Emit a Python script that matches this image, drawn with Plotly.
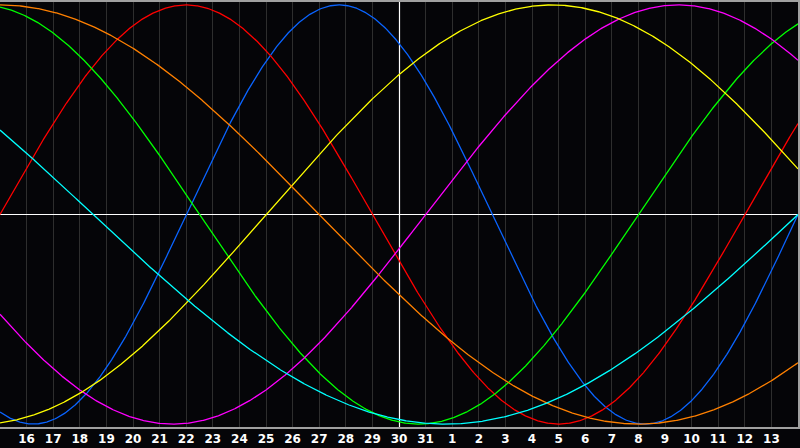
import numpy as np
import plotly.graph_objects as go

# Tick labels for the days shown (grid positions 1..29; 30 is the centre "today" line)
day_labels = [str(d) for d in range(16, 32)] + [str(d) for d in range(1, 14)]

# Biorhythm cycles
cycle_names = ["Physical", "Emotional", "Intellectual", "Intuitive",
               "Aesthetic", "Awareness", "Spiritual"]
cycle_periods = [23, 28, 33, 38, 43, 48, 53]          # days
cycle_colors = ["#0a64ff", "#ff0000", "#00ff00", "#ff00ff",
                "#ffff00", "#ff8000", "#00ffff"]
days_lived_at_left_edge = 36540                        # days since birth at x = 0
days_shown = 30
today_position = 15

fig = go.Figure()

# white reference lines (today, and the zero line), drawn under the curves
px_to_day = days_shown / 800.0
xc = today_position + 0.5 * px_to_day
fig.add_trace(go.Scatter(x=[xc, xc], y=[-1.1, 1.1], mode="lines",
                         line=dict(color="#ffffff", width=1.2), hoverinfo="skip"))
fig.add_trace(go.Scatter(x=[0, days_shown], y=[0, 0], mode="lines",
                         line=dict(color="#ffffff", width=1.2), hoverinfo="skip"))

t = np.linspace(0, days_shown, 1201)
for name, period, color in zip(cycle_names, cycle_periods, cycle_colors):
    y = np.sin(2 * np.pi * (days_lived_at_left_edge + t) / period)
    fig.add_trace(go.Scatter(x=t, y=y, mode="lines", name=name,
                             line=dict(color=color, width=1.3),
                             hoverinfo="skip"))

fig.update_layout(
    width=800, height=448,
    margin=dict(l=0, r=0, t=0, b=21),
    paper_bgcolor="#050508",
    plot_bgcolor="#050508",
    showlegend=False,
    xaxis=dict(range=[0, days_shown], tickvals=list(range(1, 30)), ticktext=day_labels,
               showgrid=True, gridcolor="#2e2e2e", gridwidth=1,
               zeroline=False, showline=True, linecolor="#a0a0a0", linewidth=2,
               mirror=True, ticks="", fixedrange=True,
               tickfont=dict(color="#ffffff", size=12, family="DejaVu Sans", weight="bold")),
    yaxis=dict(range=[-1.014, 1.014], showgrid=False, zeroline=False,
               showticklabels=False, showline=True, linecolor="#a0a0a0", linewidth=2,
               mirror=True, ticks="", fixedrange=True),
)

fig.write_html("out.html", config={"displayModeBar": False},
               post_script="document.body.style.margin='0';document.body.style.background='#050508';")
